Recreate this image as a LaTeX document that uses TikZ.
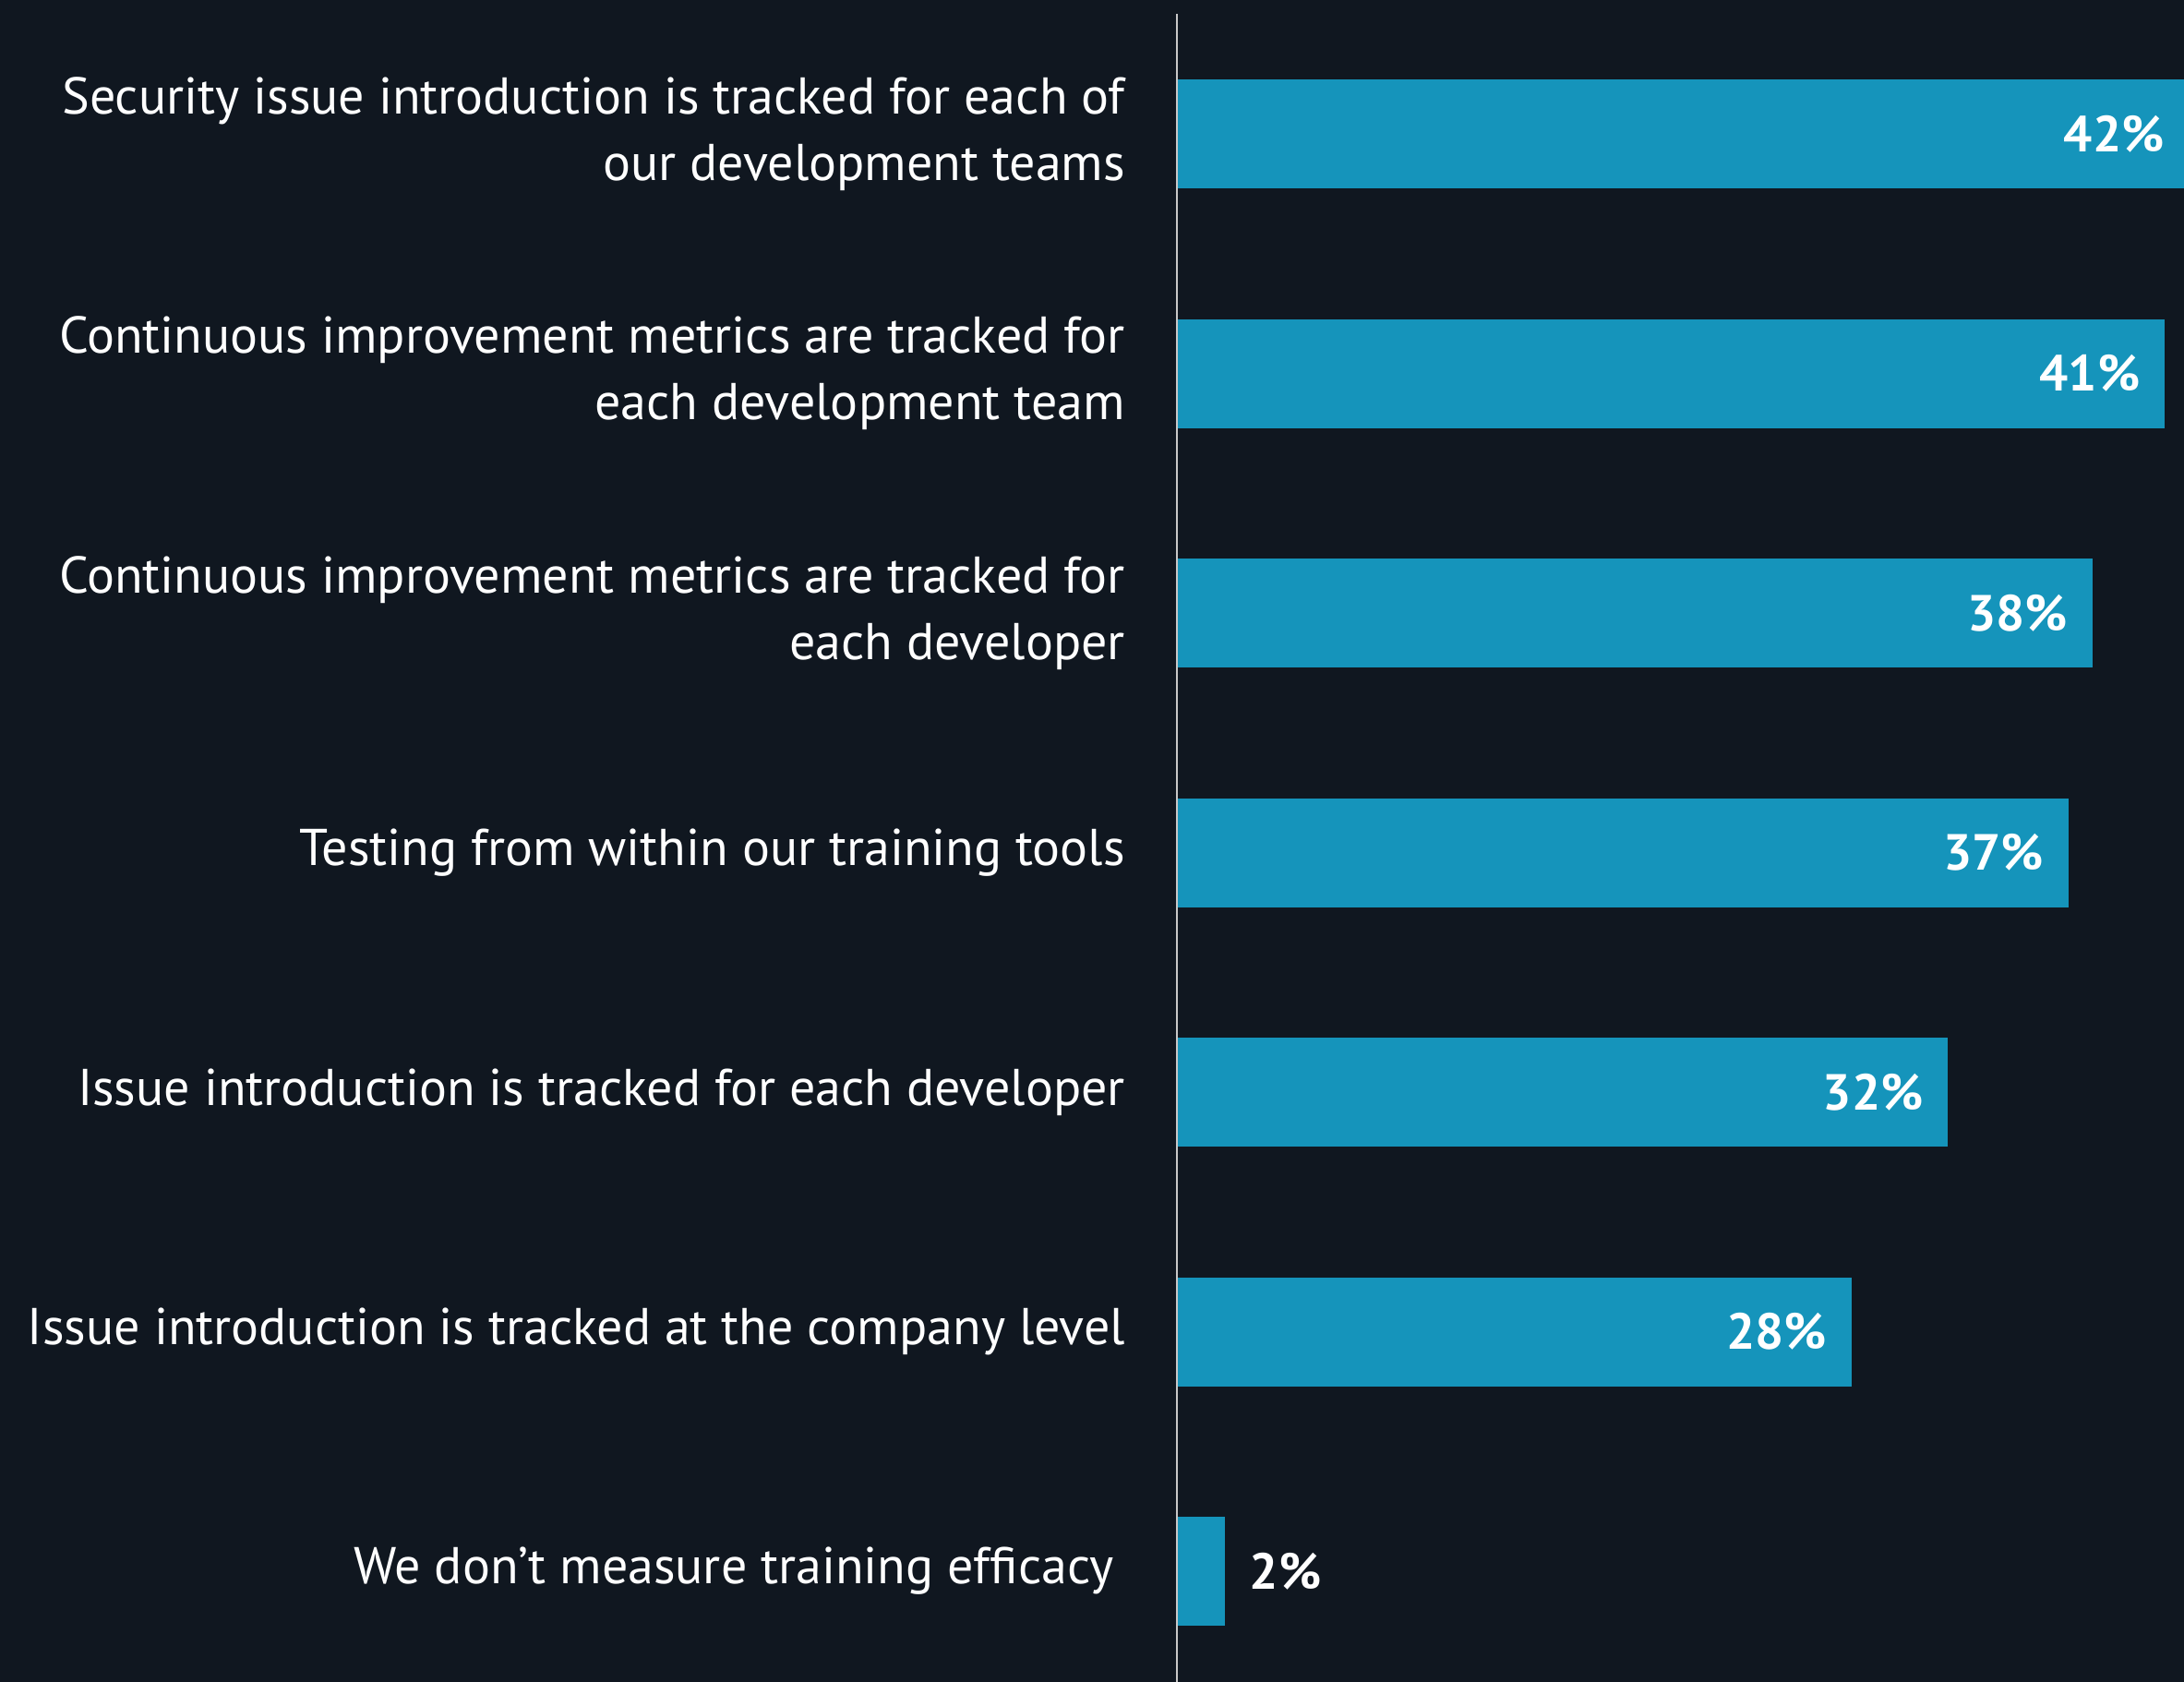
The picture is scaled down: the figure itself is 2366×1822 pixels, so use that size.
\documentclass[tikz,border=0pt]{standalone}
\usepackage{fontspec}
\setmainfont{PT Sans}
\usetikzlibrary{positioning}
\definecolor{bgnavy}{HTML}{101720}
\definecolor{barblue}{HTML}{1594BB}
\definecolor{axisgray}{HTML}{C8C8C8}
\tikzset{
    barnode/.style = {draw=none, fill=barblue, rectangle, anchor=west, inner sep=0em, 
      minimum height=118pt},
    labelnode/.style = {draw=none, fill=none, rectangle, anchor=east, inner sep=0em, 
      align=right, text=white, font=\fontsize{56}{72}\selectfont},
    valuenode/.style = {draw=none, fill=none, rectangle, inner sep=0em, text=white, 
      font=\bfseries\fontsize{55}{60}\selectfont},
    axisline/.style = {draw=axisgray, line width=2pt}
}

\begin{document}
\begin{tikzpicture}[x=1pt, y=-1pt]
    \fill[bgnavy] (0,0) rectangle (2366,1822);
    \useasboundingbox (0,0) rectangle (2366,1822);

    % bars
    \node [barnode, name=b1, minimum width=42*26.1pt] at (1275,145) {};
    \node [barnode, name=b2, minimum width=41*26.1pt] at (1275,404.5) {};
    \node [barnode, name=b3, minimum width=38*26.1pt] at (1275,664) {};
    \node [barnode, name=b4, minimum width=37*26.1pt] at (1275,923.5) {};
    \node [barnode, name=b5, minimum width=32*26.1pt] at (1275,1183) {};
    \node [barnode, name=b6, minimum width=28*26.1pt] at (1275,1442.5) {};
    \node [barnode, name=b7, minimum width=2*26.1pt] at (1275,1702) {};

    % values
    \node [valuenode, name=v1, left=27pt of b1.east] {42\%};
    \node [valuenode, name=v2, left=27pt of b2.east] {41\%};
    \node [valuenode, name=v3, left=27pt of b3.east] {38\%};
    \node [valuenode, name=v4, left=27pt of b4.east] {37\%};
    \node [valuenode, name=v5, left=27pt of b5.east] {32\%};
    \node [valuenode, name=v6, left=27pt of b6.east] {28\%};
    \node [valuenode, name=v7, right=26pt of b7.east] {2\%};

    % labels
    \node [labelnode, name=l1] at (1219,145) {Security issue introduction is tracked for each of\\our development teams};
    \node [labelnode, name=l2] at (1219,404.5) {Continuous improvement metrics are tracked for\\each development team};
    \node [labelnode, name=l3] at (1219,664) {Continuous improvement metrics are tracked for\\each developer};
    \node [labelnode, name=l4] at (1219,923.5) {Testing from within our training tools};
    \node [labelnode, name=l5] at (1219,1183) {Issue introduction is tracked for each developer};
    \node [labelnode, name=l6] at (1219,1442.5) {Issue introduction is tracked at the company level};
    \node [labelnode, name=l7] at (1207,1702) {We don’t measure training efficacy};

    % axis
    \coordinate (axtop) at (1275,15);
    \coordinate (axbot) at (1275,1822);
    \draw [axisline] (axtop) -- (axbot);
\end{tikzpicture}
\end{document}
